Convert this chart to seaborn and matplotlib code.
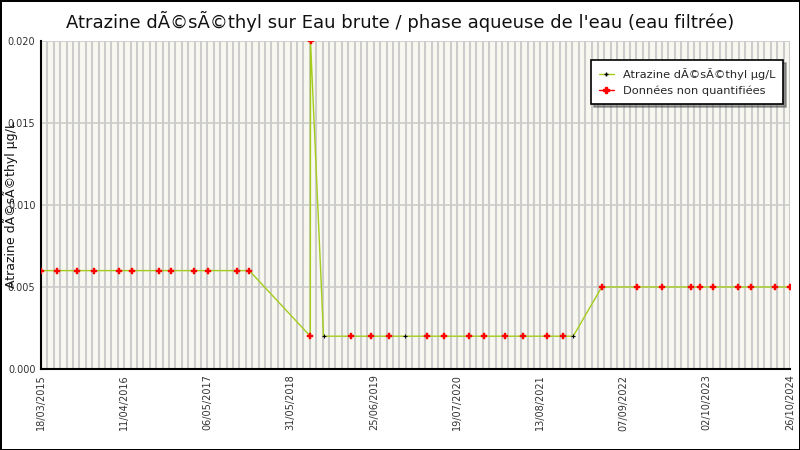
import numpy as np
import pandas as pd
import matplotlib
matplotlib.use("Agg")
import matplotlib.pyplot as plt
import matplotlib.dates as mdates
from matplotlib.lines import Line2D
import seaborn as sns

# ── Data ──────────────────────────────────────────────────────────────────────
dates = [
    "2015-03-18", "2015-05-30", "2015-09-04", "2015-11-20", "2016-03-19",
    "2016-05-19", "2016-09-22", "2016-11-17", "2017-03-05", "2017-05-10",
    "2017-09-23", "2017-11-18", "2018-08-31", "2018-09-01", "2018-11-01",
    "2019-03-12", "2019-06-13", "2019-09-05", "2019-11-19", "2020-02-28",
    "2020-05-19", "2020-09-14", "2020-11-23", "2021-03-01", "2021-05-25",
    "2021-09-14", "2021-11-28", "2022-01-14", "2022-05-28", "2022-11-10",
    "2023-03-07", "2023-07-21", "2023-09-01", "2023-11-01", "2024-02-26",
    "2024-04-27", "2024-08-17", "2024-10-26",
]
values = [
    0.006, 0.006, 0.006, 0.006, 0.006,
    0.006, 0.006, 0.006, 0.006, 0.006,
    0.006, 0.006, 0.002, 0.020, 0.002,
    0.002, 0.002, 0.002, 0.002, 0.002,
    0.002, 0.002, 0.002, 0.002, 0.002,
    0.002, 0.002, 0.002, 0.005, 0.005,
    0.005, 0.005, 0.005, 0.005, 0.005,
    0.005, 0.005, 0.005,
]
# 1 = quantified (black), 0 = non quantifiée (red)
quantified = [
    0, 0, 0, 0, 0, 0, 0, 0, 0, 0,
    0, 0, 0, 0, 1, 0, 0, 0, 1, 0,
    0, 0, 0, 0, 0, 0, 0, 1, 0, 0,
    0, 0, 0, 0, 0, 0, 0, 0,
]
tick_dates = ["2015-03-18", "2016-04-11", "2017-05-06", "2018-05-31", "2019-06-25",
              "2020-07-19", "2021-08-13", "2022-09-07", "2023-10-02", "2024-10-26"]

TITLE = "Atrazine dÃ©sÃ©thyl sur Eau brute / phase aqueuse de l'eau (eau filtrée)"
YLABEL = "Atrazine dÃ©sÃ©thyl µg/L"
COL_LINE = "#a4cc1c"
COL_RED = "#ff0000"

df = pd.DataFrame({"date": pd.to_datetime(dates), "value": values, "quant": quantified})

# ── Plot ──────────────────────────────────────────────────────────────────────
sns.set_style("white")
plt.rcParams["font.family"] = ["DejaVu Sans"]
fig = plt.figure(figsize=(8, 4.5), dpi=100)
fig.patch.set_facecolor("white")
fig.patch.set_edgecolor("black")
fig.patch.set_linewidth(2)
ax = fig.add_axes([0.05125, 0.18, 0.93625, 0.7289])
ax.set_facecolor("#f8f8f0")

sns.lineplot(data=df, x="date", y="value", ax=ax, color=COL_LINE, linewidth=1,
             estimator=None, sort=False, legend=False)
red = df[df["quant"] == 0]
blk = df[df["quant"] == 1]
sns.scatterplot(data=red, x="date", y="value", ax=ax, marker="P", s=16,
                color=COL_RED, edgecolor=COL_RED, linewidth=0.3, zorder=5, legend=False)
sns.scatterplot(data=blk, x="date", y="value", ax=ax, marker="+", s=10,
                color="black", linewidth=0.8, zorder=5, legend=False)

start = pd.Timestamp(tick_dates[0])
end = pd.Timestamp(tick_dates[-1])
ax.set_xlim(start, end)
ax.set_ylim(0, 0.020)

major = pd.to_datetime(tick_dates)
minor = pd.date_range(start, end, freq="30D")
ax.set_xticks(mdates.date2num(major))
ax.set_xticks(mdates.date2num(minor), minor=True)
ax.xaxis.set_major_formatter(mdates.DateFormatter("%d/%m/%Y"))
ax.set_yticks([0.0, 0.005, 0.010, 0.015, 0.020])
ax.set_yticks(np.arange(0, 0.0201, 0.00125), minor=True)
ax.yaxis.set_major_formatter(matplotlib.ticker.FormatStrFormatter("%.3f"))

ax.grid(which="minor", axis="x", color="#cccccc", linewidth=1.5)
ax.grid(which="major", axis="x", color="#cccccc", linewidth=1.5)
ax.grid(which="major", axis="y", color="#cccccc", linewidth=1.2)
ax.set_axisbelow(True)

ax.tick_params(axis="both", which="both", direction="in", color="black",
               length=5, width=1, labelsize=7, labelcolor="#333333")
ax.tick_params(axis="x", which="major", rotation=90, pad=4)
ax.tick_params(axis="y", which="major", pad=4)

for side in ["top", "right"]:
    ax.spines[side].set_visible(False)
for side in ["left", "bottom"]:
    ax.spines[side].set_color("black")
    ax.spines[side].set_linewidth(1.5)

ax.set_xlabel("")
ax.set_ylabel(YLABEL, fontsize=9, color="#111111")
ax.yaxis.set_label_coords(-0.031, 0.5)
fig.suptitle(TITLE, x=0.5, y=0.975, fontsize=13, color="#111111")

handles = [
    Line2D([0], [0], color=COL_LINE, linewidth=1, marker="+", markersize=3,
           markeredgecolor="black", label=YLABEL),
    Line2D([0], [0], color=COL_RED, linewidth=1, marker="P", markersize=4,
           markerfacecolor=COL_RED, markeredgecolor=COL_RED, label="Données non quantifiées"),
]
leg = ax.legend(handles=handles, loc="upper right", bbox_to_anchor=(0.991, 0.942),
                borderaxespad=0, fontsize=8.2, frameon=True, fancybox=False, shadow=True,
                edgecolor="black", framealpha=1, handlelength=1.3, borderpad=0.7,
                labelspacing=0.5)
leg.get_frame().set_linewidth(1.2)

fig.savefig("out.png", dpi=100)
